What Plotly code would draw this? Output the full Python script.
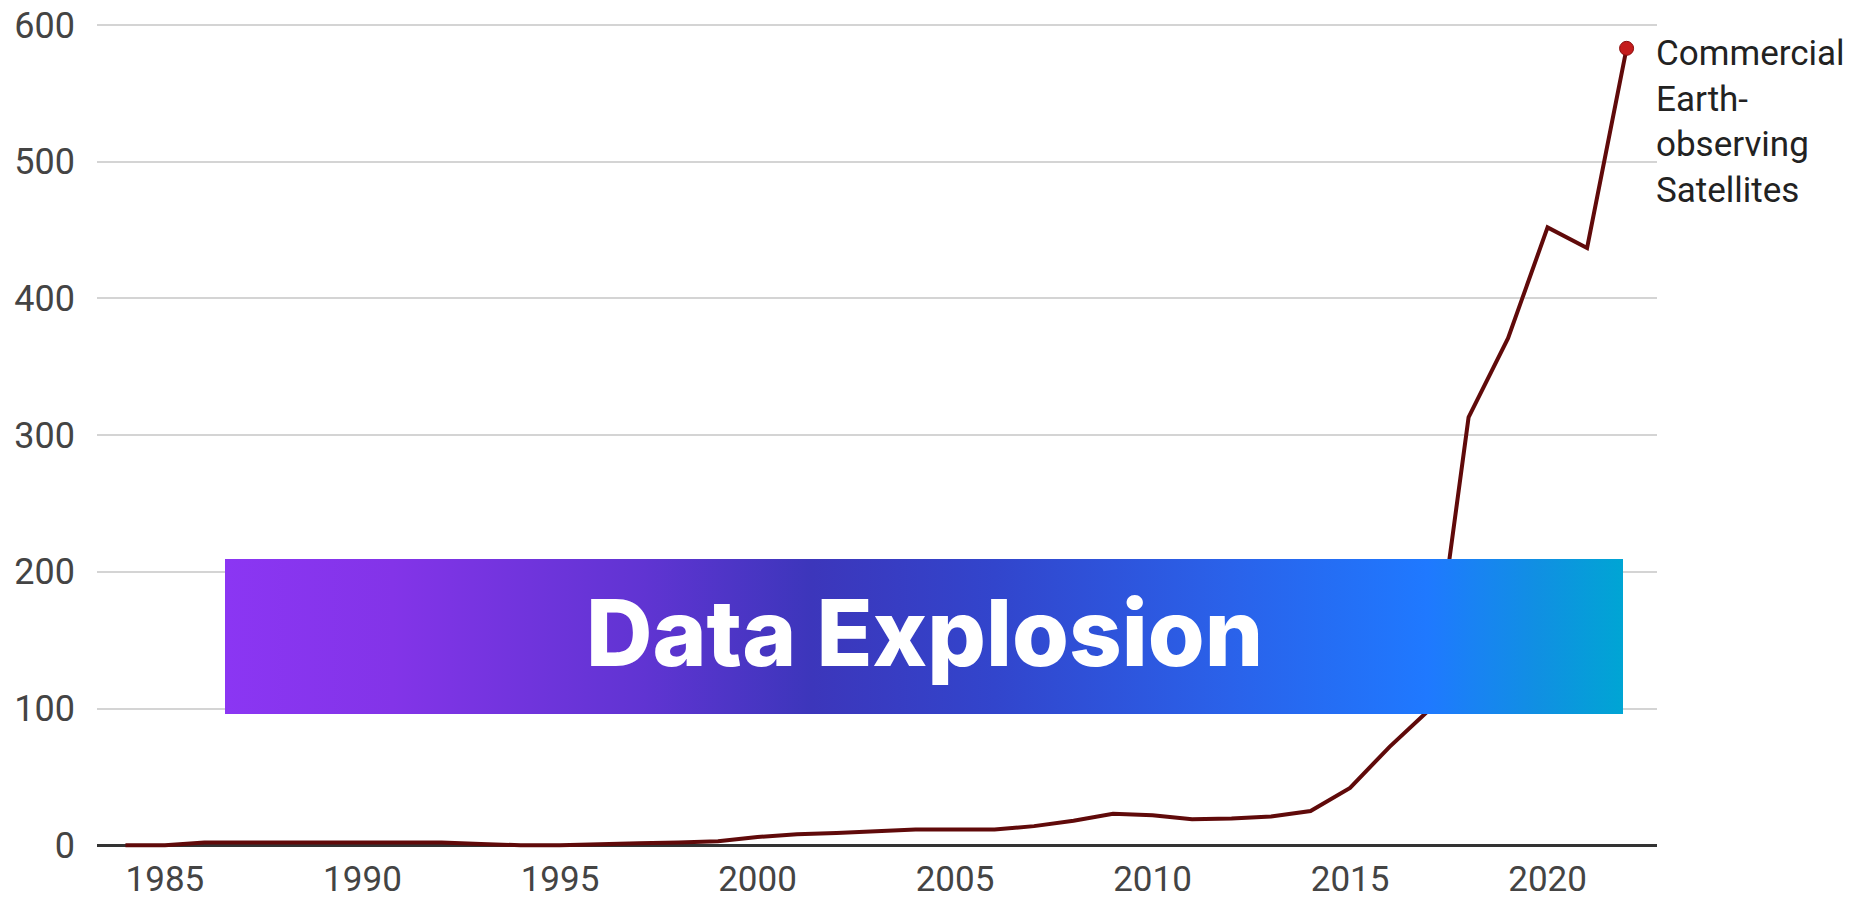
import base64
import plotly.graph_objects as go

# ---- data ----
years = list(range(1984, 2023))
satellites = [0, 0, 2, 2, 2, 2, 2, 2, 2, 1, 0, 0, 1, 1.5, 2, 3,
              6, 8, 9, 10.5, 11.5, 11.5, 11.5, 14, 18, 23, 22, 19, 19.5, 21, 25,
              42, 72, 99, 313, 371, 452, 437, 583]
series_label = "Commercial<br>Earth-<br>observing<br>Satellites"
x_ticks = [1985, 1990, 1995, 2000, 2005, 2010, 2015, 2020]
y_ticks = [0, 100, 200, 300, 400, 500, 600]
banner_title = "Data Explosion"

# ---- geometry (pixels) ----
W, H = 1870, 902
ML, MR, MT, MB = 97, 213, 21, 54
plot_w = W - ML - MR
plot_h = H - MT - MB

fig = go.Figure()
fig.add_trace(go.Scatter(
    x=years, y=satellites, mode="lines",
    line=dict(color="#600a0a", width=4),
    hoverinfo="skip", showlegend=False, cliponaxis=False,
))
fig.add_trace(go.Scatter(
    x=[years[-1]], y=[satellites[-1]], mode="markers",
    marker=dict(color="#c41c1c", size=14, line=dict(color="#8a0d0d", width=1)),
    hoverinfo="skip", showlegend=False, cliponaxis=False,
))

fig.add_annotation(
    x=years[-1], y=satellites[-1], xref="x", yref="y",
    text=series_label, showarrow=False, xanchor="left", yanchor="top",
    xshift=27, yshift=17, align="left",
    font=dict(family="Roboto", size=35, color="#222222"),
)

# gradient banner as an inline SVG image
bx0, bx1, by0, by1 = 225, 1623, 559, 714
bw, bh = bx1 - bx0, by1 - by0
svg = f'''<svg xmlns="http://www.w3.org/2000/svg" width="{bw}" height="{bh}" viewBox="0 0 {bw} {bh}" preserveAspectRatio="none">
<defs><linearGradient id="g" x1="0" y1="0" x2="1" y2="0">
<stop offset="0" stop-color="#8b36f3"/>
<stop offset="0.12" stop-color="#8334e8"/>
<stop offset="0.30" stop-color="#6034d2"/>
<stop offset="0.42" stop-color="#3c36bb"/>
<stop offset="0.55" stop-color="#3245cc"/>
<stop offset="0.72" stop-color="#2a62ea"/>
<stop offset="0.86" stop-color="#1f79ff"/>
<stop offset="0.94" stop-color="#1090e2"/>
<stop offset="1" stop-color="#00a5d4"/>
</linearGradient></defs>
<rect x="0" y="0" width="{bw}" height="{bh}" fill="url(#g)"/>
</svg>'''
src = "data:image/svg+xml;base64," + base64.b64encode(svg.encode()).decode()
fig.add_layout_image(
    source=src, xref="paper", yref="paper",
    x=(bx0 - ML) / plot_w, y=(H - MB - by0) / plot_h,
    sizex=bw / plot_w, sizey=bh / plot_h,
    xanchor="left", yanchor="top", sizing="stretch", layer="above",
)
fig.add_annotation(
    x=((bx0 + bx1) / 2 - ML) / plot_w, y=(H - MB - (by0 + by1) / 2) / plot_h,
    xref="paper", yref="paper", text=banner_title, showarrow=False,
    xanchor="center", yanchor="middle", yshift=4,
    font=dict(family="Inter", size=92, color="#ffffff", weight=800),
)

fig.update_layout(
    width=W, height=H,
    margin=dict(l=ML, r=MR, t=MT, b=MB, autoexpand=False),
    plot_bgcolor="#ffffff", paper_bgcolor="#ffffff",
    xaxis=dict(
        range=[1983.28, 2022.77], tickvals=x_ticks, showgrid=False,
        zeroline=False, showline=False, ticks="", automargin=False,
        tickfont=dict(family="Roboto", size=35, color="#444444"),
        ticklabelstandoff=7,
    ),
    yaxis=dict(
        range=[-2, 603], tickvals=y_ticks, showgrid=True,
        gridcolor="#d4d4d4", gridwidth=2,
        zeroline=True, zerolinecolor="#333333", zerolinewidth=3,
        showline=False, ticks="", automargin=False,
        tickfont=dict(family="Roboto", size=36, color="#444444"),
        ticklabelstandoff=21,
    ),
)

fig.write_html(
    "out.html",
    config={"displayModeBar": False},
    post_script="document.body.style.margin='0';document.body.style.overflow='hidden';",
)
